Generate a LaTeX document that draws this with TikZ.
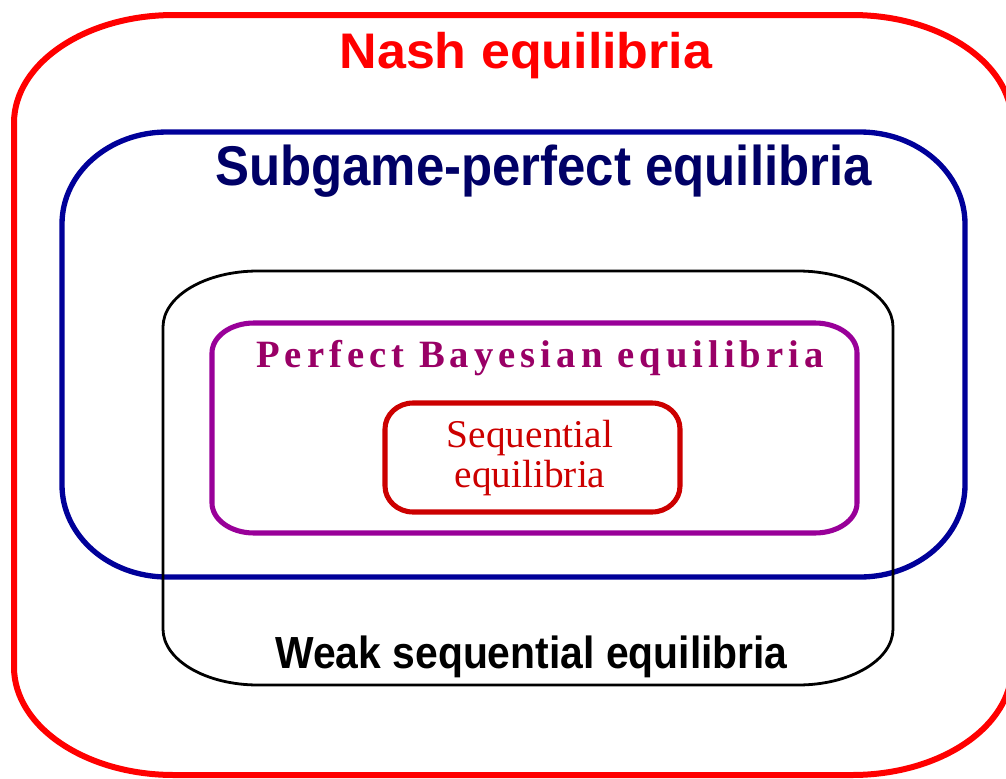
\documentclass[tikz,border=0pt]{standalone}
\usepackage{fontspec}
\setmainfont{Liberation Serif}
\newfontfamily\arialfont{Liberation Sans}
\newfontfamily\pbefont{Liberation Serif}[LetterSpace=13.0]
\definecolor{nashred}{RGB}{255,0,0}
\definecolor{spblue}{RGB}{0,0,153}
\definecolor{sptext}{RGB}{0,0,102}
\definecolor{pbepurple}{RGB}{153,0,153}
\definecolor{pbetext}{RGB}{153,0,102}
\definecolor{seqred}{RGB}{204,0,0}
% elliptic-corner box: style, L, T, R, B, rx, ry
\newcommand\ellbox[7]{%
  \draw[#1] ({#2+#6},#3) -- ({#4-#6},#3)
    arc[start angle=-90, end angle=0, x radius=#6, y radius=#7]
    -- (#4,{#5-#7})
    arc[start angle=0, end angle=90, x radius=#6, y radius=#7]
    -- ({#2+#6},#5)
    arc[start angle=90, end angle=180, x radius=#6, y radius=#7]
    -- (#2,{#3+#7})
    arc[start angle=180, end angle=270, x radius=#6, y radius=#7] -- cycle;}
\tikzset{
  setline/.style={line join=round},
  lbl/.style={inner sep=0pt, outer sep=0pt, anchor=base},
}
\begin{document}
\begin{tikzpicture}[x=0.75pt, y=-0.75pt]
\useasboundingbox (0,0) rectangle (1006,778);
\clip (0,0) rectangle (1006,778);
% outer: Nash
\ellbox{setline, draw=nashred, line width=4.5pt}{14}{15}{1012}{775}{160}{108}
% Subgame-perfect
\ellbox{setline, draw=spblue, line width=4pt}{62}{132}{965}{577}{105}{92}
% Weak sequential
\ellbox{setline, draw=black, line width=2.1pt}{163}{271}{893}{685}{95}{56}
% Perfect Bayesian
\ellbox{setline, draw=pbepurple, line width=3.8pt}{212}{323}{857}{533}{42}{30}
% Sequential
\ellbox{setline, draw=seqred, line width=3.8pt}{385}{403}{680}{512}{28}{26}

\node[lbl, text=nashred] (nash) at (526,68)
  {\scalebox{1.04}[1]{\arialfont\bfseries\fontsize{37.5pt}{40pt}\selectfont Nash equilibria}};
\node[lbl, text=sptext] (spe) at (543.5,185)
  {\scalebox{0.91}[1]{\arialfont\bfseries\fontsize{42pt}{45pt}\selectfont Subgame-perfect equilibria}};
\node[lbl, text=black] (wse) at (531.5,668)
  {\scalebox{0.908}[1]{\arialfont\bfseries\fontsize{33.75pt}{36pt}\selectfont Weak sequential equilibria}};
\node[lbl, text=pbetext] (pbe) at (540,367)
  {\pbefont\bfseries\fontsize{29pt}{32pt}\selectfont Perfect Bayesian equilibria};
\node[inner sep=0pt, text=seqred, align=center, font=\fontsize{29.5pt}{30pt}\selectfont] (seq) at (530,458)
  {Sequential\\equilibria};
\end{tikzpicture}
\end{document}
